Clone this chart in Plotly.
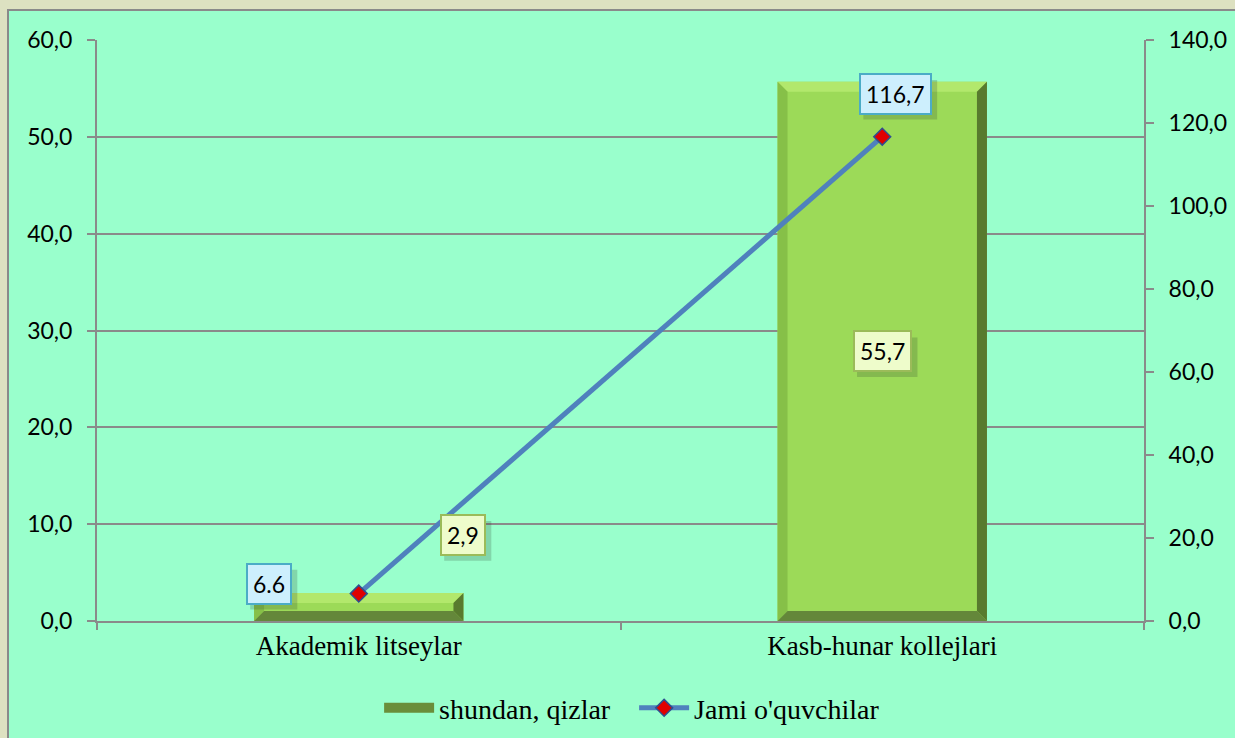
import plotly.graph_objects as go

categories = ["Akademik litseylar", "Kasb-hunar kollejlari"]
qizlar = [2.9, 55.7]            # shundan, qizlar (left axis)
jami = [6.6, 116.7]             # Jami o'quvchilar (right axis)
qizlar_labels = ["2,9", "55,7"]
jami_labels = ["6.6", "116,7"]

xs = list(range(len(categories)))
BAR_W = 0.4

W, H = 1235, 738
ML, MR, MT, MB = 97, 91, 40, 117
PW, PH = W - ML - MR, H - MT - MB
YMAX, Y2MAX = 60, 140
XMIN, XMAX = -0.5, len(categories) - 0.5

FACE = "#9CDA58"
TOP = "#B2E86C"
RIGHT = "#587A2E"
BOTTOM = "#64873A"
LEFT = "#86C048"
SERIF = "Liberation Serif, Times New Roman, serif"
SANS = "Lato, Carlito, sans-serif"

fig = go.Figure()

fig.add_trace(go.Bar(
    x=xs, y=qizlar, width=BAR_W, name="shundan, qizlar",
    marker=dict(color=FACE, line=dict(width=0)),
    hoverinfo="skip", yaxis="y", showlegend=False,
))

# bevel edges derived from each bar's value
dx = 10 / (PW / (XMAX - XMIN))
dy_unit = 10 / (PH / YMAX)
for c, v in zip(xs, qizlar):
    L, R, T, B = c - BAR_W / 2, c + BAR_W / 2, v, 0
    dy = min(dy_unit, v / 2)
    polys = [
        (TOP, [(L, T), (R, T), (R - dx, T - dy), (L + dx, T - dy)]),
        (LEFT, [(L, T), (L, B), (L + dx, B + dy), (L + dx, T - dy)]),
        (BOTTOM, [(L, B), (R, B), (R - dx, B + dy), (L + dx, B + dy)]),
        (RIGHT, [(R, T), (R, B), (R - dx, B + dy), (R - dx, T - dy)]),
    ]
    for col, pts in polys:
        px = [p[0] for p in pts] + [pts[0][0]]
        py = [p[1] for p in pts] + [pts[0][1]]
        fig.add_trace(go.Scatter(
            x=px, y=py, mode="lines", fill="toself", fillcolor=col,
            line=dict(width=0, color=col), showlegend=False,
            hoverinfo="skip", yaxis="y",
        ))

# legend entry for bars (wide swatch look)
fig.add_trace(go.Scatter(
    x=[None], y=[None], mode="lines", name="shundan, qizlar",
    line=dict(color="#6A8E3A", width=13), yaxis="y", hoverinfo="skip",
))

fig.add_trace(go.Scatter(
    x=xs, y=jami, name="Jami o'quvchilar", mode="lines+markers",
    line=dict(color="#4F81BD", width=5),
    marker=dict(symbol="diamond", size=13, color="#E00000",
                line=dict(color="#2F4F8F", width=1.5)),
    yaxis="y2", hoverinfo="skip",
))

FS = 23
font_box = dict(family=SANS, size=FS, color="black")
annotations = []
shapes = []
PAD = 5

def box(x, y, yref, text, xshift, yshift, bg, border):
    tw = sum(0.58 * FS if ch.isdigit() else 0.28 * FS for ch in text)
    bw = tw + 2 * PAD + 4
    bh = FS * 1.2 + 2 * PAD + 2
    shapes.append(dict(
        type="rect", xref="x", yref=yref, xsizemode="pixel", ysizemode="pixel",
        xanchor=x, yanchor=y,
        x0=xshift - bw / 2 + 5, x1=xshift + bw / 2 + 5,
        y0=yshift - bh / 2 - 6, y1=yshift + bh / 2 - 6,
        fillcolor="rgba(50,70,50,0.22)", line=dict(width=0), layer="above",
    ))
    annotations.append(dict(
        x=x, y=y, xref="x", yref=yref, text=text, showarrow=False,
        xshift=xshift, yshift=yshift, font=font_box,
        bgcolor=bg, borderpad=PAD, borderwidth=2, bordercolor=border,
    ))

# line labels
box(xs[0], jami[0], "y2", jami_labels[0], -90, 10, "#CDEFFD", "#4BACC6")
box(xs[1], jami[1], "y2", jami_labels[1], 13, 43, "#CDEFFD", "#4BACC6")
# bar labels
box(xs[0], qizlar[0], "y", qizlar_labels[0], 104, 58, "#EEFCCB", "#9BBB59")
box(xs[1], qizlar[1] / 2, "y", qizlar_labels[1], 0, 0, "#EEFCCB", "#9BBB59")

# outer chart frame
shapes.insert(0, dict(
    type="rect", xref="paper", yref="paper",
    x0=(8 - ML) / PW, x1=1 + (MR + 20) / PW,
    y0=-(MB + 20) / PH, y1=1 + (MT - 10) / PH,
    fillcolor="#99FFCC", line=dict(color="#8A8A8A", width=2), layer="below",
))

AX = "#8A8A8A"
fig.update_layout(
    width=W, height=H,
    margin=dict(l=ML, r=MR, t=MT, b=MB, pad=0, autoexpand=False),
    paper_bgcolor="#DDE1C1", plot_bgcolor="#99FFCC",
    separators=", ",
    showlegend=True,
    legend=dict(orientation="h", x=0.513, xanchor="center", y=-0.15,
                yanchor="middle", bgcolor="rgba(0,0,0,0)",
                font=dict(family=SERIF, size=28, color="black"),
                itemwidth=50, tracegroupgap=0,
                entrywidth=190, entrywidthmode="pixels"),
    xaxis=dict(
        range=[XMIN, XMAX], tickmode="array", tickvals=xs, ticktext=categories,
        ticks="", showgrid=False, zeroline=False, showline=True,
        linecolor=AX, linewidth=2, automargin=False,
        tickfont=dict(family=SERIF, size=27, color="black"),
        minor=dict(tickmode="linear", tick0=-0.5, dtick=1, ticks="outside",
                   ticklen=7, tickwidth=2, tickcolor=AX, showgrid=False),
        fixedrange=True,
    ),
    yaxis=dict(
        range=[0, YMAX], dtick=10, tickformat=".1f", ticks="outside",
        ticklen=8, tickwidth=2, tickcolor=AX, showline=True, linecolor=AX,
        linewidth=2, showgrid=True, gridcolor=AX, gridwidth=2,
        zeroline=False, ticklabelstandoff=10, automargin=False,
        tickfont=dict(family=SANS, size=FS, color="black"),
    ),
    yaxis2=dict(
        range=[0, Y2MAX], dtick=20, tickformat=".1f", ticks="outside",
        ticklen=8, tickwidth=2, tickcolor=AX, showline=True, linecolor=AX,
        linewidth=2, showgrid=False, zeroline=False, overlaying="y",
        side="right", ticklabelstandoff=10, automargin=False,
        tickfont=dict(family=SANS, size=FS, color="black"),
    ),
    annotations=annotations,
    shapes=shapes,
)

fig.write_html(
    "out.html",
    config={"displayModeBar": False, "staticPlot": True},
    post_script=(
        "document.documentElement.style.overflow='hidden';"
        "document.body.style.margin='0';document.body.style.overflow='hidden';"
    ),
)
